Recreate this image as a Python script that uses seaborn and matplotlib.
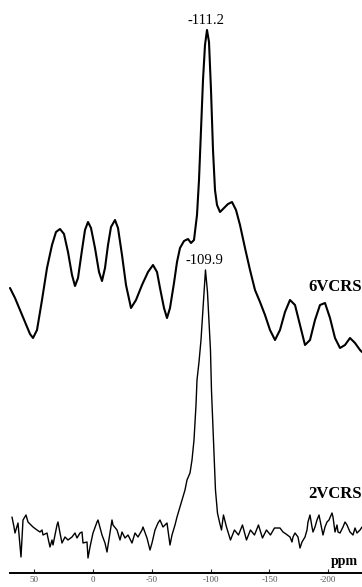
import numpy as np
import pandas as pd
import matplotlib
matplotlib.use("Agg")
import matplotlib.pyplot as plt
import seaborn as sns

# 29Si spectra: chemical shift (ppm) and intensity (a.u.)
shift_6v = [56.25, 52.0, 47.75, 43.5, 39.25, 36.7, 33.3, 29.05, 24.8, 20.55, 17.15, 13.75,
            10.35, 6.95, 3.55, 1.0, -1.55, -4.95, -7.5, -10.05, -12.6, -16.0, -19.4, -21.95,
            -24.5, -27.05, -29.6, -33.0, -35.55, -38.95, -42.35, -46.6, -50.85, -55.95, -61.05,
            -65.3, -68.7, -71.25, -74.65, -77.2, -79.75, -83.15, -85.7, -88.25, -91.65, -95.05,
            -97.6, -100.15, -102.7, -104.4, -106.1, -107.8, -109.5, -111.2, -112.9, -114.6,
            -116.3, -118.0, -119.7, -122.25, -125.65, -129.05, -132.45, -135.85, -139.25,
            -143.5, -147.75, -152.0, -156.25, -160.5, -164.75, -169.0, -173.25, -177.5,
            -181.75, -186.0, -190.25, -194.5, -198.75, -203.0, -207.25, -211.5, -215.75,
            -220.0, -224.25, -228.5, -232.75, -237.0, -241.25, -242.95]
int_6v = [2, -8, -20, -32, -44, -48, -40, -10, 22, 45, 58, 61,
          56, 38, 15, 4, 12, 40, 60, 68, 62, 42, 18, 9,
          22, 45, 63, 70, 62, 35, 5, -18, -10, 5, 18,
          25, 18, 2, -18, -28, -18, 7, 28, 42, 49, 51,
          47, 50, 75, 110, 160, 210, 245, 260, 248, 200,
          140, 100, 85, 78, 82, 86, 88, 80, 65,
          42, 20, 0, -12, -25, -40, -50, -40, -22,
          -10, -15, -35, -55, -50, -30, -15, -13, -28,
          -48, -58, -55, -48, -53, -60, -62]

shift_2v = [54.55, 52.85, 52.0, 49.45, 46.9, 45.2, 42.65, 40.95, 36.7, 33.3, 30.75, 29.05,
            28.2, 24.8, 23.95, 22.25, 20.55, 19.7, 16.3, 15.45, 13.75, 12.05, 9.5, 6.95,
            3.55, 1.0, -0.7, -3.25, -4.95, -5.8, -9.2, -10.05, -11.75, -14.3, -17.7, -18.55,
            -21.95, -24.5, -26.2, -28.75, -30.45, -31.3, -34.7, -37.25, -38.95, -41.5, -44.05,
            -47.45, -50.0, -52.55, -55.95, -56.8, -60.2, -62.75, -64.45, -67.0, -69.55, -71.25,
            -73.8, -77.2, -79.75, -81.45, -84.0, -85.7, -88.25, -89.95, -92.5, -94.2, -96.75,
            -98.45, -100.15, -101.85, -102.7, -104.4, -106.1, -107.8, -109.9, -111.6, -113.3,
            -114.15, -115.0, -116.7, -118.4, -120.1, -121.8, -123.5, -125.2, -127.75, -131.15,
            -134.55, -137.95, -141.35, -144.75, -148.15, -151.55, -154.95, -158.35, -161.75,
            -165.15, -168.55, -173.25, -175.8, -178.35, -181.75, -183.45, -184.3, -186.0,
            -188.55, -190.25, -191.95, -194.5, -196.2, -197.05, -198.75, -200.45, -201.3,
            -203.0, -204.7, -206.4, -208.95, -209.8, -211.5, -213.2, -214.9, -217.45, -218.3,
            -220.0, -221.7, -222.55, -224.25, -226.8, -228.5, -230.2, -232.75, -235.3, -237.0,
            -238.7, -241.25, -242.95]
int_2v = [13, 3, -3, 7, -27, 10, 15, 8, 3, 0, -2, 0,
          -5, -3, -8, -17, -10, -15, 5, 8, -3, -13, -7, -10,
          -7, -3, -8, -3, -2, -13, -12, -28, -17, -3, 8, 10,
          -5, -13, -22, -3, 10, 5, 0, -10, -2, -8, -5,
          -13, -3, -7, 0, 3, -8, -20, -13, 0, 7, 10,
          3, 7, -15, -5, 5, 13, 23, 30, 40, 50, 57,
          70, 90, 125, 150, 168, 190, 222, 260, 238, 200,
          180, 140, 90, 40, 17, 8, 0, 15, 3, -10,
          0, -5, 5, -10, 0, -5, 5, -8, 0,
          -5, 2, 2, -2, -4, -7, -12, -7, -3,
          -7, -18, -12, -7, 0, 8, 15, 3, -2,
          3, 10, 15, 0, -5, 3, 8, 10, 17, 13,
          -2, 5, -2, -3, 3, 8, 5, -2, -5, 2,
          -3, 0, 3]

sample_names = ["6VCRS", "2VCRS"]
peak_shifts = [-111.2, -109.9]
scale_ticks = [50, 0, -50, -100, -150, -200]

sns.set_theme(style="white")
plt.rcParams["font.family"] = ["Liberation Serif", "DejaVu Serif"]

W, H = 362, 587
fig = plt.figure(figsize=(W / 100, H / 100), dpi=100)
fig.patch.set_facecolor("white")

# stacked spectra share one axes; each is lifted by its own baseline offset
ax = fig.add_axes([0, 0, 1, 1])
offsets = [297, 57]
spectra = [(shift_6v, int_6v), (shift_2v, int_2v)]
widths = [1.5, 1.0]
for (sx, sy), off, lw in zip(spectra, offsets, widths):
    df = pd.DataFrame({"ppm": sx, "y": np.asarray(sy, float) + off})
    sns.lineplot(data=df, x="ppm", y="y", ax=ax, color="black", lw=lw,
                 sort=False, estimator=None)

for (sx, sy), off, pk in zip(spectra, offsets, peak_shifts):
    i = int(np.argmin(np.abs(np.asarray(sx) - pk)))
    ax.annotate(f"-{abs(pk):.1f}", xy=(pk, sy[i] + off), xytext=(-1, 2),
                textcoords="offset points", ha="center", va="bottom",
                fontsize=10.5, color="black")

ax.set_xlim(64.75, -242.95)
ax.set_ylim(0, H)
ax.axis("off")

# sample names and unit, placed in figure coordinates
fig.text(362 / W, 1 - 287 / H, sample_names[0], ha="right", va="center",
         fontsize=12, fontweight="bold", color="black")
fig.text(362 / W, 1 - 494 / H, sample_names[1], ha="right", va="center",
         fontsize=12, fontweight="bold", color="black")
fig.text(358 / W, 1 - 561 / H, "ppm", ha="right", va="center",
         fontsize=10, fontweight="bold", color="black")

# chemical-shift scale bar along the bottom
sax = fig.add_axes([10 / W, 14 / H, 1 - 10 / W, 0.001])
sax.set_xlim(79.05 - 10 * 0.85, -228.65)
sax.set_ylim(0, 1)
sax.set_facecolor("none")
for s in ["top", "left", "right"]:
    sax.spines[s].set_visible(False)
sax.spines["bottom"].set_linewidth(1.4)
sax.spines["bottom"].set_color("black")
sax.set_yticks([])
sax.set_xticks(scale_ticks)
sax.set_xticklabels([str(t) for t in scale_ticks])
sax.tick_params(axis="x", direction="in", length=3, width=0.8, pad=2,
                labelsize=6.5, labelcolor="#555555", bottom=True)

fig.savefig("out.png", dpi=100, facecolor="white")
